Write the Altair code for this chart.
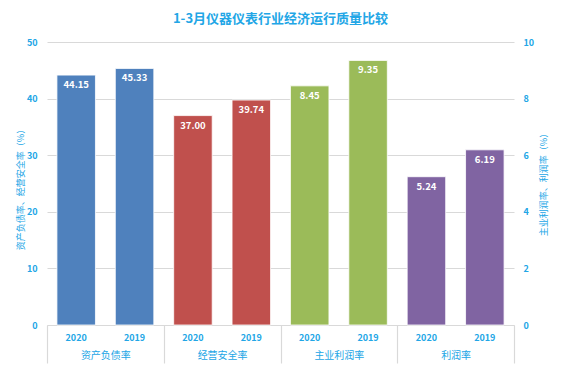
import altair as alt
import pandas as pd

groups = ["资产负债率", "经营安全率", "主业利润率", "利润率"]
years = ["2020", "2019"]
values_2020 = [44.15, 37.00, 8.45, 5.24]
values_2019 = [45.33, 39.74, 9.35, 6.19]
axis_side = ["left", "left", "right", "right"]
colors = ["#4F81BD", "#C0504D", "#9BBB59", "#8064A2"]

rows = []
for g, a, b, s in zip(groups, values_2020, values_2019, axis_side):
    rows.append({"group": g, "year": "2020", "value": a, "side": s})
    rows.append({"group": g, "year": "2019", "value": b, "side": s})
df = pd.DataFrame(rows)
df["label"] = df["value"].map(lambda v: f"{v:.2f}")

BLUE = "#22A6E6"
GRID = "#D9D9D9"
FONT = "Noto Sans CJK SC"
W, H = 467, 283

x_enc = alt.X(
    "group:N", sort=groups,
    scale=alt.Scale(paddingInner=0, paddingOuter=0),
    axis=alt.Axis(
        title=None, tickBand="extent", tickSize=38, tickColor=GRID, tickWidth=1.2,
        domainColor=GRID, domainWidth=1.2, labelAngle=0, labelColor=BLUE,
        labelFontSize=10, labelFont=FONT, labelBaseline="middle", labelPadding=-8,
    ),
)
xo_enc = alt.XOffset("year:N", sort=years,
                     scale=alt.Scale(paddingInner=0.34, paddingOuter=0.17))
color_enc = alt.Color("group:N", sort=groups,
                      scale=alt.Scale(domain=groups, range=colors), legend=None)

base = alt.Chart(df)

left_y = alt.Y("value:Q", scale=alt.Scale(domain=[0, 50]),
               axis=alt.Axis(orient="left", values=[0, 10, 20, 30, 40, 50],
                             title="资产负债率、经营安全率（%）",
                             grid=True, gridColor=GRID, domain=False, ticks=False,
                             labelColor=BLUE, labelFontWeight="bold", labelFontSize=9,
                             labelPadding=10, labelFont=FONT,
                             titleColor=BLUE, titleFontSize=9, titleFontWeight="normal",
                             titleFont=FONT, titleAngle=270, titleX=-27, titleY=145,
                             titleAlign="center", titleBaseline="middle"))
right_y = alt.Y("value:Q", scale=alt.Scale(domain=[0, 10]),
                axis=alt.Axis(orient="right", values=[0, 2, 4, 6, 8, 10],
                              title="主业利润率、利润率（%）",
                              grid=False, domain=False, ticks=False,
                              labelColor=BLUE, labelFontWeight="bold", labelFontSize=9,
                              labelPadding=9, labelFont=FONT,
                              titleColor=BLUE, titleFontSize=9, titleFontWeight="normal",
                              titleFont=FONT, titleAngle=270, titleX=29, titleY=140,
                              titleAlign="center", titleBaseline="middle"))

def side_layer(side, y_enc):
    d = base.transform_filter(alt.datum.side == side)
    bars = d.mark_bar(stroke="white", strokeWidth=0.8).encode(
        x=x_enc, xOffset=xo_enc, y=y_enc, color=color_enc)
    txt = d.mark_text(color="white", fontWeight="bold", fontSize=9.5, font=FONT,
                      baseline="middle", dy=10).encode(
        x=x_enc, xOffset=xo_enc, y=y_enc, text="label:N")
    return alt.layer(bars, txt)

years_txt = base.mark_text(color=BLUE, fontWeight="bold", fontSize=9, font=FONT,
                           baseline="middle").encode(
    x=x_enc, xOffset=xo_enc, y=alt.value(H + 13), text="year:N")

chart = alt.layer(
    side_layer("left", left_y),
    side_layer("right", right_y),
    years_txt,
).resolve_scale(y="independent").properties(
    width=W, height=H,
    autosize=alt.AutoSizeParams(type="none"),
    padding={"left": 39, "top": 34, "right": 40, "bottom": 42},
    title=alt.TitleParams("1-3月仪器仪表行业经济运行质量比较", color=BLUE, fontSize=13,
                          fontWeight="bold", font=FONT, offset=12, anchor="middle"),
).configure_view(stroke=None)

chart.save("out.html", embed_options={"renderer": "svg", "actions": False})
